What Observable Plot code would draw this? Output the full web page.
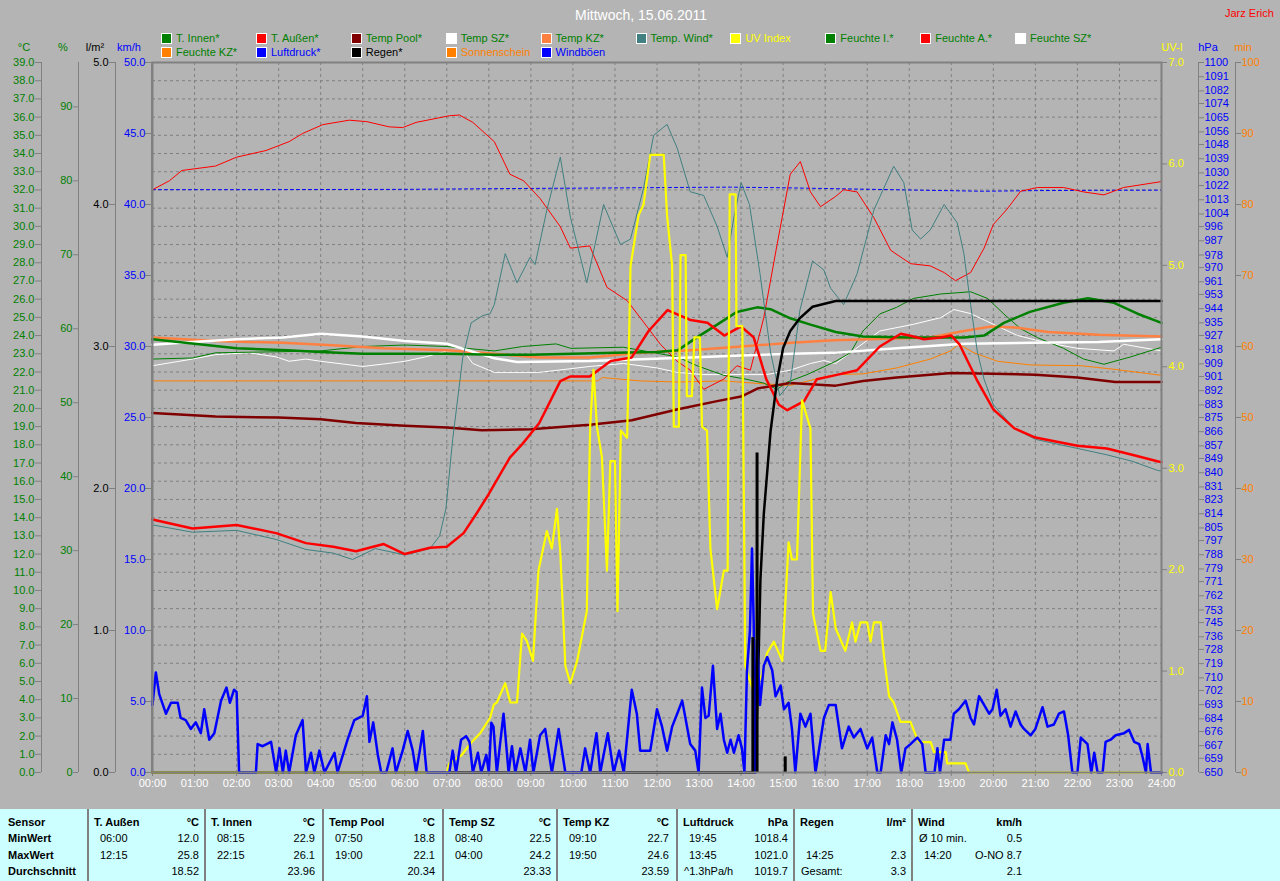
<!DOCTYPE html>
<html><head><meta charset="utf-8">
<script src="https://cdn.jsdelivr.net/npm/d3@7"></script>
<script src="https://cdn.jsdelivr.net/npm/@observablehq/plot@0.6"></script>
<style>
html,body{margin:0;padding:0;background:#B4B4B4;}
body{font-family:"Liberation Sans",Arial,sans-serif;font-size:11px;width:1280px;height:881px;overflow:hidden;}
#wrap{position:relative;width:1280px;height:881px;}
.abs{position:absolute;white-space:nowrap;line-height:12px;}
.box{position:absolute;width:9px;height:9px;border:1px solid #fff;box-sizing:content-box;}
#table{position:absolute;left:0;top:809px;width:1280px;height:72px;background:#CCFFFF;}
.sep{position:absolute;top:0;width:2px;height:72px;background:#808080;}
.b{font-weight:bold;}
</style></head>
<body><div id="wrap"><div id="chart"></div></div>
<script>
// ---------- data (hours, native units) ----------
const hours = d3.range(0, 25);
const tAussen = [[0,13.9],[0.95,13.4],[2,13.6],[2.94,13.15],[3.65,12.6],[4.3,12.4],[4.84,12.15],[5.5,12.55],[6,12.0],[6.6,12.35],[7,12.4],[7.4,13.15],[7.7,14.2],[8.0,15.3],[8.5,17.3],[8.8,18.05],[9.2,19.2],[9.7,21.5],[9.93,21.75],[10.4,21.75],[10.9,22.6],[11.4,22.8],[11.8,24.25],[12.25,25.4],[12.8,24.85],[13.2,24.7],[13.6,24.0],[14.0,24.5],[14.3,23.9],[14.6,21.6],[14.9,20.2],[15.1,19.9],[15.5,20.4],[15.8,21.6],[16.2,21.8],[16.76,22.1],[17.3,23.4],[17.8,24.1],[18.0,24.0],[18.35,23.8],[18.75,23.9],[19.0,24.0],[19.2,23.5],[19.6,21.6],[20,19.95],[20.5,18.9],[21,18.4],[22,17.95],[22.7,17.8],[23.3,17.45],[23.9,17.1],[24,17.05]];
const tWind = [[0,13.6],[0.95,13.2],[2,13.3],[2.94,12.8],[3.65,12.25],[4.3,12.05],[4.76,11.7],[5.3,12.3],[6,11.95],[6.6,12.3],[6.83,13.0],[6.98,14.5],[7.14,18.3],[7.38,22.8],[7.58,24.7],[7.86,25.1],[8.03,25.2],[8.13,25.7],[8.39,28.5],[8.67,26.9],[8.98,28.3],[9.1,27.9],[9.38,30.9],[9.7,33.8],[9.94,30.5],[10.33,26.9],[10.73,31.2],[11.13,29.0],[11.37,29.3],[11.68,32.1],[11.92,35.0],[12.24,35.6],[12.48,34.3],[12.79,31.9],[13.11,31.7],[13.43,30.0],[13.67,28.3],[13.83,30.5],[14.0,32.4],[14.2,31.2],[14.45,27.4],[14.7,23.1],[14.92,20.7],[15.17,21.4],[15.4,25.4],[15.7,28.1],[15.97,27.6],[16.13,26.6],[16.44,25.7],[16.76,27.4],[17.16,30.9],[17.63,33.3],[17.87,32.4],[18.07,29.8],[18.27,29.3],[18.5,29.8],[18.83,31.2],[19.14,30.2],[19.3,28.5],[19.46,25.7],[19.62,23.1],[19.78,21.6],[20,20.2],[20.5,18.9],[21,18.3],[22,17.8],[22.7,17.45],[23.3,17.1],[23.9,16.6],[24,16.55]];
const tInnen = [[0,23.8],[1,23.55],[2,23.3],[3.2,23.2],[4,23.1],[5,23.0],[6,23.0],[7,23.0],[8.13,22.95],[9,22.95],[10,23.0],[11,23.05],[12,23.1],[12.5,23.2],[12.95,23.9],[13.43,24.6],[13.9,25.3],[14.38,25.55],[14.7,25.45],[15.17,24.95],[15.65,24.6],[16.25,24.2],[16.9,23.95],[18,23.9],[19.3,23.9],[19.78,24.0],[20.25,24.7],[20.87,25.3],[21.67,25.8],[22.25,26.05],[22.87,25.8],[23.43,25.2],[24,24.7]];
const tPool = [[0,19.75],[1.5,19.55],[3,19.5],[4,19.4],[4.84,19.2],[6,19.05],[7,18.95],[7.83,18.8],[9,18.85],[10.4,19.1],[11.4,19.35],[12.5,19.95],[13.43,20.4],[14.0,20.65],[14.4,21.1],[15.17,21.4],[16.25,21.25],[16.9,21.5],[17.7,21.7],[19.0,21.95],[20,21.9],[21,21.85],[22,21.7],[22.9,21.45],[24,21.45]];
const tSZ = [[0,23.5],[0.95,23.65],[2,23.8],[3.1,23.9],[4,24.1],[5,23.95],[6,23.7],[7,23.55],[8.13,22.75],[8.67,22.55],[10.4,22.6],[11.6,22.7],[12.8,22.8],[14,22.9],[15.2,23.0],[16.2,23.05],[17.7,23.3],[19.3,23.55],[20.9,23.6],[22.5,23.65],[24,23.8]];
const tKZ = [[0,23.9],[1.5,23.7],[3.1,23.6],[4.4,23.45],[5.5,23.3],[7,23.2],[8.13,23.0],[9.2,22.8],[10.4,22.8],[11.6,23.05],[12.8,23.2],[14,23.4],[15.2,23.6],[16.2,23.75],[18.5,23.9],[19.3,24.25],[19.95,24.5],[20.5,24.45],[21.3,24.2],[22.5,24.05],[24,23.95]];
const feuchteI = [[0,55.9],[0.95,56.05],[1.5,56.75],[3.1,56.9],[4,57.0],[5,57.6],[6,57.8],[7,57.6],[8.13,57.0],[8.8,57.6],[9.6,57.95],[9.95,57.35],[11.2,57.5],[12.48,56.2],[12.95,55.0],[13.59,53.7],[14.06,53.25],[14.54,52.65],[14.86,51.8],[15.1,52.8],[15.57,53.8],[16.25,55.6],[16.6,56.75],[16.9,59.7],[17.3,62.0],[17.7,62.9],[18.1,64.1],[18.75,64.7],[19.46,65.0],[19.86,64.1],[20.25,62.0],[20.65,60.0],[21.05,58.8],[21.67,57.35],[22.15,55.9],[22.63,55.2],[23.27,56.2],[24,57.5]];
const feuchteA = [[0,78.8],[0.4,80.0],[0.7,81.4],[1.5,82.0],[2,83.2],[2.7,84.1],[3.25,85.3],[3.57,86.4],[4.05,87.6],[4.68,88.2],[5.1,88.0],[5.63,87.3],[5.95,87.2],[6.27,87.9],[7.06,88.8],[7.3,88.9],[7.62,87.9],[8.13,85.3],[8.5,80.9],[8.83,80.0],[9.22,77.6],[9.7,73.8],[9.94,70.9],[10.4,71.2],[10.81,65.6],[11.29,63.8],[11.6,61.5],[12.08,57.9],[12.48,55.6],[12.79,54.4],[13.11,51.8],[13.59,53.2],[13.9,55.0],[14.22,54.4],[14.54,61.5],[14.86,71.5],[15.17,80.9],[15.41,82.6],[15.65,78.5],[15.89,76.5],[16.25,77.9],[16.44,78.8],[16.76,78.5],[17.16,75.0],[17.56,70.6],[18.03,68.8],[18.5,68.5],[18.83,67.6],[19.1,66.5],[19.46,67.6],[19.78,70.9],[20.0,74.1],[20.33,76.2],[20.65,78.6],[21.05,79.1],[21.67,79.1],[22.15,78.5],[22.63,78.1],[23.1,79.1],[24,79.9]];
const feuchteSZ = [[0,55.0],[0.95,55.9],[1.5,56.5],[2.3,56.75],[2.94,56.2],[3.25,55.6],[3.65,55.9],[4,55.6],[5,54.9],[5.6,55.3],[6,55.6],[6.5,56.2],[7,57.0],[7.4,57.0],[7.62,55.3],[8.13,54.1],[9.2,54.1],[10.4,54.9],[11.2,55.3],[12.0,54.7],[12.48,54.1],[13.1,53.8],[14.6,53.8],[15.17,54.4],[15.65,55.3],[15.97,55.7],[16.25,55.3],[16.6,56.75],[17.3,59.7],[18.1,60.6],[18.75,61.5],[19.06,62.6],[19.46,62.05],[20.0,60.6],[20.57,59.1],[21.2,58.2],[22.0,57.35],[22.87,57.0],[23.1,57.9],[24,57.0]];
const feuchteKZ = [[0,52.95],[8,52.95],[10.6,52.95],[10.7,53.4],[11.1,53.2],[11.6,52.95],[12.5,52.8],[13.6,52.95],[14.4,52.6],[15.17,52.35],[16.0,53.5],[16.25,53.8],[16.9,53.9],[17.7,54.7],[18.5,55.9],[18.98,57.0],[19.18,57.9],[19.54,56.75],[20.1,55.6],[20.9,55.1],[22.1,55.0],[22.9,54.5],[24,53.7]];
const luftdruck = [[0,1019.4],[2,1019.4],[4,1019.5],[6,1019.6],[7.5,1019.9],[9,1020.2],[11,1020.5],[12.5,1020.8],[13.75,1021.0],[15,1020.6],[16.5,1019.9],[18,1019.2],[19.75,1018.4],[21,1018.8],[22.5,1019.0],[24,1019.1]];
const regenSumme = [[0,0],[14.33,0],[14.4,0.6],[14.46,1.36],[14.54,1.82],[14.7,2.4],[14.86,2.77],[15.0,2.99],[15.17,3.11],[15.4,3.2],[15.7,3.28],[16.25,3.32],[24,3.32]];
const regenMenge = [[14.28,0.95],[14.38,2.25],[15.05,0.11]];
const uvIndex = [[0,0],[7.0,0],[7.06,0.09],[7.35,0.17],[7.55,0.28],[7.8,0.39],[8.03,0.54],[8.12,0.67],[8.19,0.69],[8.39,0.88],[8.51,0.69],[8.67,0.69],[8.79,1.37],[8.9,1.3],[9.05,1.1],[9.18,1.99],[9.38,2.38],[9.5,2.21],[9.62,2.6],[9.7,2.17],[9.82,1.05],[9.94,0.88],[10.1,1.1],[10.33,1.59],[10.41,3.41],[10.49,3.97],[10.57,3.41],[10.69,3.11],[10.81,1.99],[10.89,3.07],[11.0,3.07],[11.06,1.59],[11.14,3.37],[11.29,3.3],[11.37,4.99],[11.56,5.49],[11.68,5.6],[11.84,6.09],[12.16,6.09],[12.24,5.49],[12.36,4.99],[12.4,3.41],[12.52,3.41],[12.56,5.1],[12.68,5.1],[12.71,3.71],[12.83,3.71],[12.89,4.29],[13.02,4.29],[13.07,3.41],[13.19,3.37],[13.27,2.21],[13.43,1.61],[13.59,1.99],[13.68,1.99],[13.73,5.7],[13.87,5.7],[13.89,4.4],[14.03,4.4],[14.1,1.05],[14.3,0.79],[14.5,0.97],[14.62,1.18],[14.78,1.29],[14.98,1.1],[15.13,2.27],[15.21,2.1],[15.33,2.1],[15.45,3.67],[15.65,3.39],[15.71,1.57],[15.89,1.2],[16.0,1.2],[16.13,1.78],[16.25,1.42],[16.48,1.2],[16.64,1.48],[16.72,1.29],[16.84,1.48],[17.0,1.48],[17.08,1.29],[17.16,1.48],[17.32,1.48],[17.4,1.14],[17.52,0.75],[17.63,0.69],[17.79,0.5],[18.03,0.5],[18.15,0.37],[18.23,0.3],[18.51,0.3],[18.59,0.2],[18.87,0.2],[18.9,0.09],[19.34,0.09],[19.42,0],[24,0]];
const windboeen = [[0,4.76],[0.08,7.05],[0.16,5.52],[0.32,4.14],[0.44,4.91],[0.6,4.91],[0.67,3.84],[0.79,3.69],[0.91,3.07],[1.03,3.53],[1.15,2.77],[1.23,4.45],[1.35,2.31],[1.47,2.77],[1.63,5.06],[1.76,5.98],[1.84,4.91],[1.94,5.83],[2.0,5.68],[2.06,0],[2.46,0],[2.5,2.0],[2.62,1.85],[2.82,2.16],[2.94,0],[3.02,1.7],[3.1,0],[3.17,1.54],[3.25,0],[3.41,2.62],[3.57,3.69],[3.65,0],[3.77,1.39],[3.85,0],[3.97,1.54],[4.09,0],[4.33,1.39],[4.4,0],[4.64,2.31],[4.8,3.69],[5.0,3.99],[5.1,5.37],[5.16,2.16],[5.25,3.53],[5.36,1.24],[5.44,0],[5.56,0],[5.71,1.7],[5.79,0],[5.95,1.54],[6.07,2.92],[6.19,1.54],[6.27,0],[6.35,1.39],[6.43,2.92],[6.52,0],[7.06,0],[7.14,1.54],[7.22,0],[7.34,2.31],[7.46,2.56],[7.54,2.16],[7.62,0],[7.74,1.39],[7.82,0],[7.94,1.24],[8.0,0],[8.06,3.5],[8.11,3.23],[8.19,0],[8.35,4.14],[8.47,0],[8.55,1.85],[8.63,0],[8.75,1.7],[8.87,0],[8.98,2.31],[9.06,0],[9.22,2.62],[9.34,3.07],[9.5,0],[9.66,3.07],[9.82,0],[10.2,0],[10.29,1.7],[10.41,0],[10.56,2.77],[10.65,0],[10.83,2.77],[10.97,0],[11.1,1.54],[11.21,0],[11.4,5.83],[11.52,4.14],[11.6,1.54],[11.84,1.54],[12.0,4.45],[12.12,3.23],[12.24,1.54],[12.36,3.23],[12.48,4.14],[12.6,5.06],[12.79,2.0],[12.91,1.54],[12.99,0],[13.07,5.98],[13.15,3.84],[13.23,4.0],[13.33,7.51],[13.43,3.07],[13.51,4.14],[13.59,2.31],[13.67,1.39],[13.75,2.31],[13.83,1.39],[13.94,2.62],[14.02,1.7],[14.08,0],[14.14,7.2],[14.21,9.96],[14.26,15.78],[14.3,10.58],[14.34,0],[14.38,9.35],[14.45,4.76],[14.54,7.51],[14.62,8.13],[14.74,7.2],[14.82,5.37],[14.94,6.13],[15.02,4.45],[15.13,4.91],[15.21,3.07],[15.29,0],[15.41,4.14],[15.53,3.23],[15.65,4.14],[15.77,0],[15.97,3.84],[16.09,4.76],[16.25,4.76],[16.4,1.7],[16.56,3.23],[16.68,2.46],[16.84,3.07],[17.0,1.7],[17.12,2.46],[17.24,0],[17.32,0],[17.44,2.62],[17.52,2.0],[17.6,3.53],[17.71,2.31],[17.81,0],[17.91,1.7],[18.03,2.0],[18.19,2.46],[18.31,2.0],[18.39,0],[18.6,0],[18.67,1.7],[18.73,0],[18.83,2.31],[18.98,2.31],[19.06,4.14],[19.18,4.45],[19.34,5.06],[19.46,3.84],[19.54,3.38],[19.66,5.37],[19.78,4.76],[19.9,4.14],[19.98,4.45],[20.08,5.83],[20.17,4.0],[20.29,4.45],[20.41,3.23],[20.53,4.3],[20.65,3.38],[20.73,3.07],[20.89,2.62],[21.0,3.07],[21.17,4.6],[21.29,3.23],[21.44,3.38],[21.56,4.14],[21.68,4.3],[21.78,2.62],[21.88,0],[22.0,0],[22.08,2.46],[22.24,2.0],[22.33,0],[22.4,1.39],[22.48,0],[22.6,0],[22.67,2.16],[22.79,2.31],[22.91,2.62],[23.11,2.77],[23.23,3.0],[23.35,2.16],[23.47,2.0],[23.55,1.09],[23.63,0],[23.67,2.0],[23.75,0],[24,0]];

// axis tick values
const celsiusTicks = d3.range(0, 40);
const pctTicks = d3.range(0, 100, 10);
const lm2Ticks = [0, 1, 2, 3, 4, 5];
const kmhTicks = d3.range(0, 55, 5);
const uvTicks = [0, 1, 2, 3, 4, 5, 6, 7];
const hpaTicks = [1100,1091,1082,1074,1065,1056,1048,1039,1030,1022,1013,1004,996,987,978,970,961,953,944,935,927,918,909,901,892,883,875,866,857,849,840,831,823,814,805,797,788,779,771,762,753,745,736,728,719,710,702,693,684,676,667,659,650];
const minTicks = d3.range(0, 110, 10);

// legend
const legendNames = ["T. Innen*","T. Außen*","Temp Pool*","Temp SZ*","Temp KZ*","Temp. Wind*","UV Index","Feuchte I.*","Feuchte A.*","Feuchte SZ*","Feuchte KZ*","Luftdruck*","Regen*","Sonnenschein","Windböen"];
const legendBoxColors = ["#008000","#FF0000","#800000","#FFFFFF","#FF8040","#408080","#FFFF00","#008000","#FF0000","#FFFFFF","#FF8000","#0000FF","#000000","#FF8000","#0000FF"];
const legendTextColors = ["#008000","#008000","#008000","#008000","#008000","#008000","#FFFF00","#008000","#008000","#008000","#008000","#0000FF","#000000","#FF8000","#0000FF"];

// statistics table
const rowLabels = ["Sensor","MinWert","MaxWert","Durchschnitt"];
const tableHeaders = ["T. Außen","T. Innen","Temp Pool","Temp SZ","Temp KZ","Luftdruck","Regen","Wind"];
const tableUnits = ["°C","°C","°C","°C","°C","hPa","l/m²","km/h"];
const minTimes = ["06:00","08:15","07:50","08:40","09:10","19:45","","Ø 10 min."];
const minVals = ["12.0","22.9","18.8","22.5","22.7","1018.4","","0.5"];
const maxTimes = ["12:15","22:15","19:00","04:00","19:50","13:45","14:25","14:20"];
const maxVals = ["25.8","26.1","22.1","24.2","24.6","1021.0","2.3","O-NO 8.7"];
const avgLabels = ["","","","","","^1.3hPa/h","Gesamt:",""];
const avgVals = ["18.52","23.96","20.34","23.33","23.59","1019.7","3.3","2.1"];

// ---------- scale conversion to the common (°C) frame ----------
const Y = 39;
const conv = {
  c: v => v,
  pct: v => v * Y / 96,
  lm2: v => v * Y / 5,
  kmh: v => v * Y / 50,
  uv: v => v * Y / 7,
  hpa: v => (v - 650) * Y / 450,
  min: v => v * Y / 100
};
const inv = {
  c: d => d,
  pct: d => d * 96 / Y,
  lm2: d => d * 5 / Y,
  kmh: d => d * 50 / Y,
  uv: d => d * 7 / Y,
  hpa: d => d * 450 / Y + 650,
  min: d => d * 100 / Y
};

const AX = "#808080";
function axis(anchor, ticks, key, fmt, color, dx, tickSize, tickPadding) {
  return [
    Plot.ruleX([anchor === "left" ? 0 : 24], {dx, stroke: AX}),
    Plot.axisY({anchor, ticks: ticks.map(conv[key]), tickFormat: d => fmt(inv[key](d)),
      tickSize, tickPadding, dx, stroke: AX, fill: color, fontSize: 11, label: null})
  ];
}
const f1 = v => v.toFixed(1), f0 = v => Math.round(v).toString();

const ln = (data, key, stroke, strokeWidth, extra = {}) =>
  Plot.line(data, {x: d => d[0], y: d => conv[key](d[1]), stroke, strokeWidth, ...extra});

const chart = Plot.plot({
  width: 1280, height: 809,
  marginLeft: 152, marginRight: 119, marginTop: 62, marginBottom: 37,
  x: {domain: [0, 24], axis: null},
  y: {domain: [0, 39], axis: null},
  style: {background: "#B4B4B4", fontFamily: "'Liberation Sans', Arial, sans-serif", fontSize: "11px", color: "black", overflow: "visible"},
  marks: [
    Plot.ruleY(d3.range(1, 39), {stroke: AX, strokeDasharray: "3,3"}),
    Plot.ruleX(d3.range(1, 24), {stroke: AX, strokeDasharray: "3,3"}),
    ...axis("left", celsiusTicks, "c", f1, "#008000", -111, 6, 1),
    ...axis("left", pctTicks, "pct", f0, "#008000", -74, 5, 1),
    ...axis("left", lm2Ticks, "lm2", f1, "#000000", -37, 6, 1),
    ...axis("left", kmhTicks, "kmh", f1, "#0000FF", -1, 6, 0),
    ...axis("right", uvTicks, "uv", f1, "#FFFF00", 0, 5, 2),
    ...axis("right", hpaTicks, "hpa", f0, "#0000FF", 37, 5, 1),
    ...axis("right", minTicks, "min", f0, "#FF8000", 74, 5, 1),
    Plot.axisX({ticks: hours, tickFormat: d => String(d).padStart(2, "0") + ":00", tickSize: 4, tickPadding: 3, stroke: AX, fill: "#FFFFFF", fontSize: 11, label: null}),
    ln(luftdruck, "hpa", "#0000FF", 1, {strokeDasharray: "3,3"}),
    ln(feuchteKZ, "pct", "#FF8000", 1),
    ln(feuchteSZ, "pct", "#FFFFFF", 1),
    ln(feuchteI, "pct", "#008000", 1),
    ln(feuchteA, "pct", "#FF0000", 1),
    ln(tPool, "c", "#800000", 2.5),
    ln(tKZ, "c", "#FF8040", 2.5),
    ln(tSZ, "c", "#FFFFFF", 2.5),
    ln(tInnen, "c", "#008000", 2.5),
    ln(tWind, "c", "#408080", 1),
    ln(tAussen, "c", "#FF0000", 2.5),
    ln(regenSumme, "lm2", "#000000", 2.5),
    ln(uvIndex, "uv", "#FFFF00", 2.2),
    ln(windboeen, "kmh", "#0000FF", 2.5),
    Plot.ruleX(regenMenge, {x: d => d[0], y1: 0, y2: d => conv.lm2(d[1]), stroke: "#000000", strokeWidth: 3}),
    Plot.frame({stroke: AX, strokeWidth: 2})
  ]
});
document.getElementById("chart").appendChild(chart);

// ---------- overlays: title, legend, axis units ----------
const wrap = document.getElementById("wrap");
function addText(txt, x, y, color, opts = {}) {
  const el = document.createElement("div");
  el.className = "abs" + (opts.bold ? " b" : "");
  el.textContent = txt;
  el.style.color = color;
  el.style.top = (y - 6) + "px";
  if (opts.fontSize) { el.style.fontSize = opts.fontSize + "px"; el.style.lineHeight = opts.fontSize + 2 + "px"; el.style.top = (y - (opts.fontSize + 2) / 2) + "px"; }
  if (opts.align === "center") { el.style.left = x + "px"; el.style.transform = "translateX(-50%)"; }
  else if (opts.align === "right") { el.style.right = (1280 - x) + "px"; }
  else el.style.left = x + "px";
  (opts.parent || wrap).appendChild(el);
  return el;
}
addText("Mittwoch, 15.06.2011", 641, 15, "#FFFFFF", {align: "center", fontSize: 14});
addText("Jarz Erich", 1225, 13, "#FF0000");
legendNames.forEach((name, i) => {
  const row = i < 10 ? 0 : 1;
  const col = i < 10 ? i : i - 10;
  const x = 161 + col * 94.9;
  const y = row === 0 ? 38 : 52;
  const b = document.createElement("div");
  b.className = "box";
  b.style.left = x + "px"; b.style.top = (y - 5) + "px"; b.style.background = legendBoxColors[i];
  wrap.appendChild(b);
  addText(name, x + 15, y, legendTextColors[i]);
});
const unitLabels = [["°C", 24, "#008000"], ["%", 63, "#008000"], ["l/m²", 95, "#000000"], ["km/h", 129, "#0000FF"], ["UV-I", 1172, "#FFFF00"], ["hPa", 1208, "#0000FF"], ["min", 1243, "#FF8000"]];
unitLabels.forEach(([t, x, c]) => addText(t, x, 47, c, {align: "center"}));

// ---------- statistics table ----------
const table = document.createElement("div");
table.id = "table";
wrap.appendChild(table);
const seps = [88, 205, 323, 443, 557, 677, 794, 912];
const rights = [199, 315, 435, 551, 669, 788, 906, 1022];
const rowY = [13, 29, 46, 62];
rowLabels.forEach((t, r) => addText(t, 8, rowY[r], "#000000", {bold: true, parent: table}));
seps.forEach((s, i) => {
  const d = document.createElement("div");
  d.className = "sep"; d.style.left = (s - 1) + "px";
  table.appendChild(d);
  const rx = rights[i];
  const ab = (txt, x, y, o) => { const e = addText(txt, x, y, "#000000", {...o, parent: table}); if (o && o.align === "right") { e.style.right = (1280 - x) + "px"; } return e; };
  ab(tableHeaders[i], s + 6, rowY[0], {bold: true});
  ab(tableUnits[i], rx, rowY[0], {bold: true, align: "right"});
  const special = minTimes[i].indexOf(":") < 0;
  ab(minTimes[i], s + (special ? 7 : 12), rowY[1], {});
  ab(minVals[i], rx, rowY[1], {align: "right"});
  ab(maxTimes[i], s + 12, rowY[2], {});
  ab(maxVals[i], rx, rowY[2], {align: "right"});
  ab(avgLabels[i], s + 7, rowY[3], {});
  ab(avgVals[i], rx, rowY[3], {align: "right"});
});
</script>
</body></html>
